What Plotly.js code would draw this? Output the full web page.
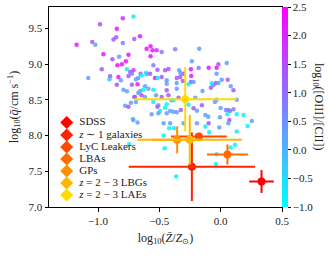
<!DOCTYPE html>
<html><head><meta charset="utf-8">
<script src="https://cdn.plot.ly/plotly-3.0.1.min.js"></script>
<style>html,body{margin:0;padding:0;background:#fff}#chart{width:331px;height:257px}</style>
</head><body><div id="chart"></div>
<script>
// Scatter sample: metallicity, ionisation parameter, log10([OIII]/[CII])
const sampleZ = [-0.984,-0.798,-0.711,-0.847,-1.175,-1.047,-1.022,-0.874,-0.852,-0.798,-0.705,-0.658,-0.956,-0.883,-0.828,-0.752,-0.773,-0.806,-0.842,-0.970,-0.765,-0.738,-0.711,-1.080,-0.902,-0.907,-0.834,-0.814,-0.752,-0.724,-0.847,-0.724,-0.793,-0.765,-0.705,-0.732,-0.779,-0.572,-0.604,-0.555,-0.522,-0.481,-0.572,-0.371,-0.175,-0.235,-0.098,-0.180,-0.549,-0.516,-0.453,-0.426,-0.339,-0.328,-0.303,-0.243,-0.653,-0.604,-0.576,-0.609,-0.535,-0.514,-0.481,-0.672,-0.691,-0.645,-0.440,-0.440,-0.358,-0.330,-0.309,-0.358,-0.240,-0.243,-0.221,-0.262,-0.678,-0.617,-0.590,-0.631,-0.658,-0.672,-0.549,-0.440,-0.358,-0.148,-0.699,-0.645,-0.617,-0.527,-0.481,-0.426,-0.399,-0.344,-0.207,-0.153,-0.691,-0.549,-0.508,-0.440,-0.385,-0.262,-0.033,-0.019,0.049,-0.033,-0.074,-0.060,-0.039,-0.019,-0.080,0.008,0.057,0.082,0.104,-0.033,0.131,-0.047,-0.752,-0.716,-0.746,-0.678,-0.465,-0.465,-0.457,-0.516,-0.453,-0.412,-0.385,-0.358,-0.494,-0.508,-0.440,-0.325,-0.221,-0.194,-0.125,-0.563,-0.713,-0.412,-0.420,-0.380,-0.303,-0.194,-0.125,-0.098,-0.363,0.000,0.043,0.063,0.076,0.104,0.055,0.131,0.186,-0.101,-0.006,0.071,0.063,-0.011,0.254,0.219,-0.093,0.131,0.117,0.082,-0.033,-0.039];
const sampleQ = [9.560,9.644,9.668,9.494,9.271,9.309,9.271,9.346,9.378,9.295,9.351,9.392,9.137,9.067,9.103,9.131,9.039,8.997,8.983,8.927,8.927,8.890,8.913,8.806,8.830,8.788,8.820,8.774,8.834,8.866,8.712,8.712,8.642,8.620,8.541,8.461,8.419,9.249,9.215,9.193,9.193,9.169,9.109,9.207,9.215,9.039,8.950,8.946,8.983,8.922,8.913,8.932,8.913,8.876,8.866,8.927,8.866,8.866,8.866,8.876,8.806,8.806,8.820,8.806,8.788,8.844,8.774,8.726,8.806,8.820,8.764,8.736,8.834,8.750,8.750,8.718,8.718,8.690,8.656,8.642,8.624,8.596,8.642,8.634,8.656,8.624,8.541,8.564,8.541,8.564,8.541,8.564,8.494,8.531,8.531,8.425,8.471,8.471,8.425,8.439,8.494,8.433,8.950,8.997,9.015,8.866,8.736,8.704,8.736,8.736,8.670,8.782,8.782,8.690,8.634,8.503,8.503,8.471,8.402,8.233,7.880,8.182,8.173,8.000,7.824,8.405,8.391,8.345,8.335,8.327,8.345,8.313,8.313,8.359,8.383,8.349,8.289,8.299,8.219,8.173,8.103,8.103,8.173,8.173,8.126,8.173,7.427,8.385,8.359,8.359,8.345,8.369,8.299,8.299,8.289,8.265,8.257,8.219,8.173,8.112,8.204,8.135,8.047,8.056,7.870,7.832,7.740,7.601];
const sampleRatio = [1.3,1.8,-0.8,2.2,2.2,1.3,0.3,1.3,1.3,0.8,1.3,2.2,2.2,1.3,0.3,2.2,2.2,2.2,2.2,1.3,-0.8,1.3,1.8,0.3,1.3,-0.2,2.2,0.3,1.3,0.8,1.3,1.3,0.3,0.3,1.3,0.3,0.3,2.2,2.2,2.2,1.8,0.8,2.2,0.8,0.3,0.3,2.2,0.8,0.8,1.3,1.3,1.3,0.3,0.3,1.3,2.2,1.3,1.3,1.3,-0.8,2.2,-0.8,1.3,0.3,0.3,-0.8,0.3,0.3,1.3,1.3,1.3,0.3,2.2,1.3,0.3,-0.8,2.2,0.3,0.3,-0.8,0.3,0.3,-0.8,1.3,0.3,0.3,1.3,1.3,0.3,0.3,1.3,1.3,0.3,1.3,0.3,1.3,0.3,-0.8,0.3,-0.8,-0.8,-0.8,2.2,1.3,0.3,0.3,-0.8,0.3,1.3,0.3,1.3,0.3,1.3,0.3,1.3,0.3,0.3,0.3,1.3,-0.8,-0.8,0.3,0.3,-0.8,-0.8,1.3,-0.8,0.3,0.3,0.3,-0.8,0.3,0.3,1.3,1.3,0.3,0.3,0.3,0.3,0.3,-0.8,-0.8,0.3,0.3,-0.8,1.3,-0.8,0.3,0.8,0.8,0.8,0.8,-0.8,-0.8,-0.8,0.3,0.3,1.3,0.3,0.3,0.3,-0.8,-0.8,-0.8,-0.8,-0.8,-0.8,-0.8];

// Literature samples
const groupNames = ['SDSS','<i>z</i> ∼ 1 galaxies','LyC Leakers','LBAs','GPs','<i>z</i> = 2 − 3 LBGs','<i>z</i> = 2 − 3 LAEs'];
const groupColors = ['#ff0000','#ff2400','#ff4800','#ff6d00','#ff9100','#ffb600','#ffda00'];
const groupZ    = [0.333,-0.235,-0.178,0.055,-0.355,-0.252,-0.289];
const groupZerr = [0.10,0.515,0.228,0.167,0.20,0.425,0.42];
const groupQ    = [7.357,7.563,7.986,7.735,7.94,7.94,8.508];
const groupQerr = [0.16,0.48,0.02,0.14,0.19,0.35,0.45];

const serif = 'Liberation Serif';
const traces = [];
traces.push({
  type:'scatter', mode:'markers', x:sampleZ, y:sampleQ, showlegend:false, hoverinfo:'skip',
  marker:{size:4.5, opacity:0.85, color:sampleRatio, colorscale:[[0,'#00ffff'],[1,'#ff00ff']], cmin:-1, cmax:2.5,
    line:{width:0},
    colorbar:{thickness:6, len:1, lenmode:'fraction', y:0.5, yanchor:'middle', ypad:0, x:1, xanchor:'left', xpad:0,
      outlinewidth:0, ticks:'outside', ticklen:3, tickwidth:1, tickcolor:'#000',
      tickvals:[-1,-0.5,0,0.5,1,1.5,2,2.5], ticktext:['−1.0','−0.5','0.0','0.5','1.0','1.5','2.0','2.5'],
      tickfont:{family:serif, size:11, color:'#222'}}}
});
for (let i=0;i<groupNames.length;i++){
  traces.push({type:'scatter', mode:'markers', x:[groupZ[i]], y:[groupQ[i]], showlegend:false, hoverinfo:'skip',
    marker:{size:8, color:groupColors[i]},
    error_x:{type:'data', array:[groupZerr[i]], color:groupColors[i], thickness:2, width:0},
    error_y:{type:'data', array:[groupQerr[i]], color:groupColors[i], thickness:2, width:0}});
}
// legend (drawn on an overlay axis in plot fractions)
const legY = [0.423,0.36,0.30,0.24,0.18,0.12,0.06];
traces.push({type:'scatter', mode:'markers', xaxis:'x2', yaxis:'y2', x:groupNames.map(()=>0.076), y:legY,
  marker:{symbol:'diamond', size:10, color:groupColors}, showlegend:false, hoverinfo:'skip'});
traces.push({type:'scatter', mode:'text', xaxis:'x2', yaxis:'y2', x:groupNames.map(()=>0.13), y:legY,
  text:groupNames, textposition:'middle right', textfont:{family:serif, size:11, color:'#222'}, showlegend:false, hoverinfo:'skip'});

const axisCommon = {showgrid:false, zeroline:false, showline:true, linecolor:'#000', linewidth:1, mirror:true,
  ticks:'outside', ticklen:3.5, tickwidth:1, tickcolor:'#000', tickfont:{family:serif, size:11, color:'#222'}};
const layout = {
  width:331, height:257, margin:{l:49, r:49, t:7, b:50}, paper_bgcolor:'#fff', plot_bgcolor:'#fff',
  font:{family:serif, color:'#222'},
  xaxis:Object.assign({}, axisCommon, {range:[-1.40,0.5], tickvals:[-1,-0.5,0,0.5], ticktext:['−1.0','−0.5','0.0','0.5'],
    title:{text:'log<sub>10</sub>(<i>Z̄</i>/<i>Z</i><sub>⊙</sub>)', font:{family:serif, size:12, color:'#222'}, standoff:7}}),
  yaxis:Object.assign({}, axisCommon, {range:[7.0,9.8], tickvals:[7,7.5,8,8.5,9,9.5], ticktext:['7.0','7.5','8.0','8.5','9.0','9.5'],
    title:{text:'log<sub>10</sub>(<i>q̄</i>/cm s<sup>−1</sup>)', font:{family:serif, size:12, color:'#222'}, standoff:7}}),
  xaxis2:{overlaying:'x', range:[0,1], visible:false, fixedrange:true},
  yaxis2:{overlaying:'y', range:[0,1], visible:false, fixedrange:true},
  annotations:[{xref:'paper', yref:'paper', x:1.155, y:0.5, xanchor:'center', yanchor:'middle', showarrow:false,
    textangle:90, text:'log<sub>10</sub>([OIII]/[CII])', font:{family:serif, size:12, color:'#222'}}],
  showlegend:false
};
Plotly.newPlot('chart', traces, layout, {displayModeBar:false, staticPlot:true});
</script></body></html>
